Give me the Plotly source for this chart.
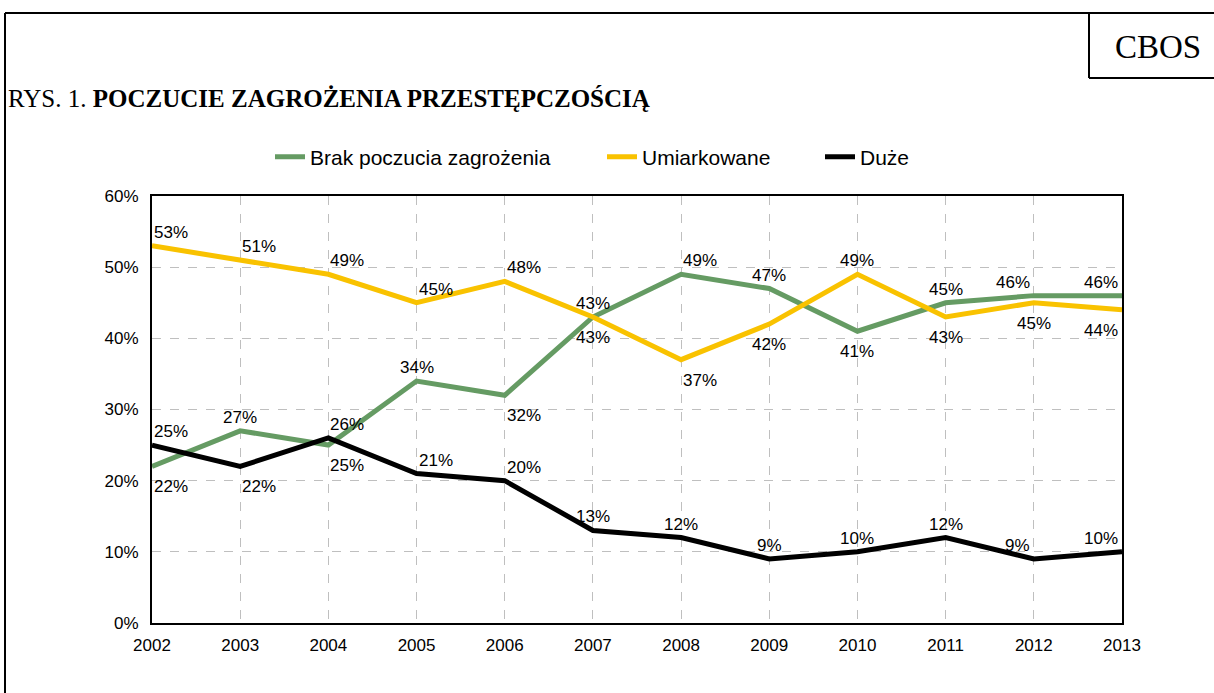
import plotly.graph_objects as go

years = [2002, 2003, 2004, 2005, 2006, 2007, 2008, 2009, 2010, 2011, 2012, 2013]
brak = [22, 27, 25, 34, 32, 43, 49, 47, 41, 45, 46, 46]
umiark = [53, 51, 49, 45, 48, 43, 37, 42, 49, 43, 45, 44]
duze = [25, 22, 26, 21, 20, 13, 12, 9, 10, 12, 9, 10]
y_ticks = [0, 10, 20, 30, 40, 50, 60]
names = ["Brak poczucia zagrożenia", "Umiarkowane", "Duże"]

# label placement styles (t/b = above/below, l/c/r = anchor side)
pos_brak = ["br", "tc", "br", "tc", "br", "bc", "tr", "tc", "bc", "tc", "tl", "tl"]
pos_umiark = ["tr", "tr", "tr", "tr", "tr", "tc", "br", "bc", "tc", "bc", "bc", "bl"]
pos_duze = ["tr", "br", "tr", "tr", "tr", "tc", "tc", "tc", "tc", "tc", "tl", "tl"]

colors = ["#659B63", "#F9C200", "#000000"]
legend_ids = ["legend", "legend2", "legend3"]
legend_px = [270, 602, 820]

W, H = 1214, 693
L, R, T, B = 152, 92, 196, 70
pw, ph = W - L - R, H - T - B

def px(x):
    return (x - L) / pw

def py(y):
    return (H - B - y) / ph

fig = go.Figure()
annotations = []
for vals, pos, name, col, lg in zip([brak, umiark, duze], [pos_brak, pos_umiark, pos_duze],
                                    names, colors, legend_ids):
    fig.add_trace(go.Scatter(x=years, y=vals, mode="lines", name=name, legend=lg,
                             line=dict(color=col, width=5), cliponaxis=False))
    for x, v, p in zip(years, vals, pos):
        vert, horiz = p[0], p[1]
        xanchor = {"l": "right", "c": "center", "r": "left"}[horiz]
        xshift = {"l": -2, "c": 0, "r": 0}[horiz]
        if vert == "t":
            yanchor, yshift = "bottom", 2
        else:
            yanchor, yshift = "top", -9
        annotations.append(dict(x=x, y=v, xref="x", yref="y", text=f"{v}%", showarrow=False,
                                xanchor=xanchor, yanchor=yanchor, xshift=xshift, yshift=yshift,
                                font=dict(family="Liberation Sans, Arial", size=17, color="#000000")))

annotations.append(dict(x=px(6), y=py(99), xref="paper", yref="paper", showarrow=False,
                        xanchor="left", yanchor="middle",
                        text="RYS. 1. <b>POCZUCIE ZAGROŻENIA PRZESTĘPCZOŚCIĄ</b>",
                        font=dict(family="Liberation Serif, Times New Roman", size=25, color="#000000")))
annotations.append(dict(x=px(1158), y=py(47), xref="paper", yref="paper", showarrow=False,
                        xanchor="center", yanchor="middle", text="CBOS",
                        font=dict(family="Liberation Serif, Times New Roman", size=33, color="#000000")))

shapes = [
    dict(type="line", xref="paper", yref="paper", x0=px(5), x1=px(1214), y0=py(13), y1=py(13),
         line=dict(color="#000000", width=2)),
    dict(type="line", xref="paper", yref="paper", x0=px(5), x1=px(5), y0=py(13), y1=py(693),
         line=dict(color="#000000", width=2)),
    dict(type="line", xref="paper", yref="paper", x0=px(1089), x1=px(1089), y0=py(13), y1=py(78),
         line=dict(color="#000000", width=2)),
    dict(type="line", xref="paper", yref="paper", x0=px(1089), x1=px(1214), y0=py(78), y1=py(78),
         line=dict(color="#000000", width=2)),
]

legend_font = dict(family="Liberation Sans, Arial", size=21, color="#000000")
legends = {}
for lg, lx in zip(legend_ids, legend_px):
    legends[lg] = dict(orientation="h", x=px(lx), xanchor="left", y=py(157), yanchor="middle",
                       font=legend_font, bgcolor="rgba(0,0,0,0)")

fig.update_layout(
    width=W, height=H,
    margin=dict(l=L, r=R, t=T, b=B, autoexpand=False),
    paper_bgcolor="white", plot_bgcolor="white",
    font=dict(family="Liberation Sans, Arial", size=17, color="#000000"),
    showlegend=True,
    annotations=annotations,
    shapes=shapes,
    xaxis=dict(range=[2002, 2013], tickvals=years, ticktext=[str(y) for y in years],
               showgrid=True, gridcolor="#BFBFBF", griddash="dash", gridwidth=1,
               showline=True, linecolor="#000000", linewidth=2, mirror=True,
               ticks="", zeroline=False, tickfont=dict(size=17), ticklabelstandoff=6),
    yaxis=dict(range=[0, 60], tickvals=y_ticks, ticktext=[f"{v}%" for v in y_ticks],
               showgrid=True, gridcolor="#BFBFBF", griddash="dash", gridwidth=1,
               showline=True, linecolor="#000000", linewidth=2, mirror=True,
               ticks="", zeroline=False, tickfont=dict(size=17), ticklabelstandoff=8),
    **legends,
)

fig.write_html("out.html", config={"displayModeBar": False},
               post_script="document.body.style.margin='0';document.body.style.overflow='hidden';")
